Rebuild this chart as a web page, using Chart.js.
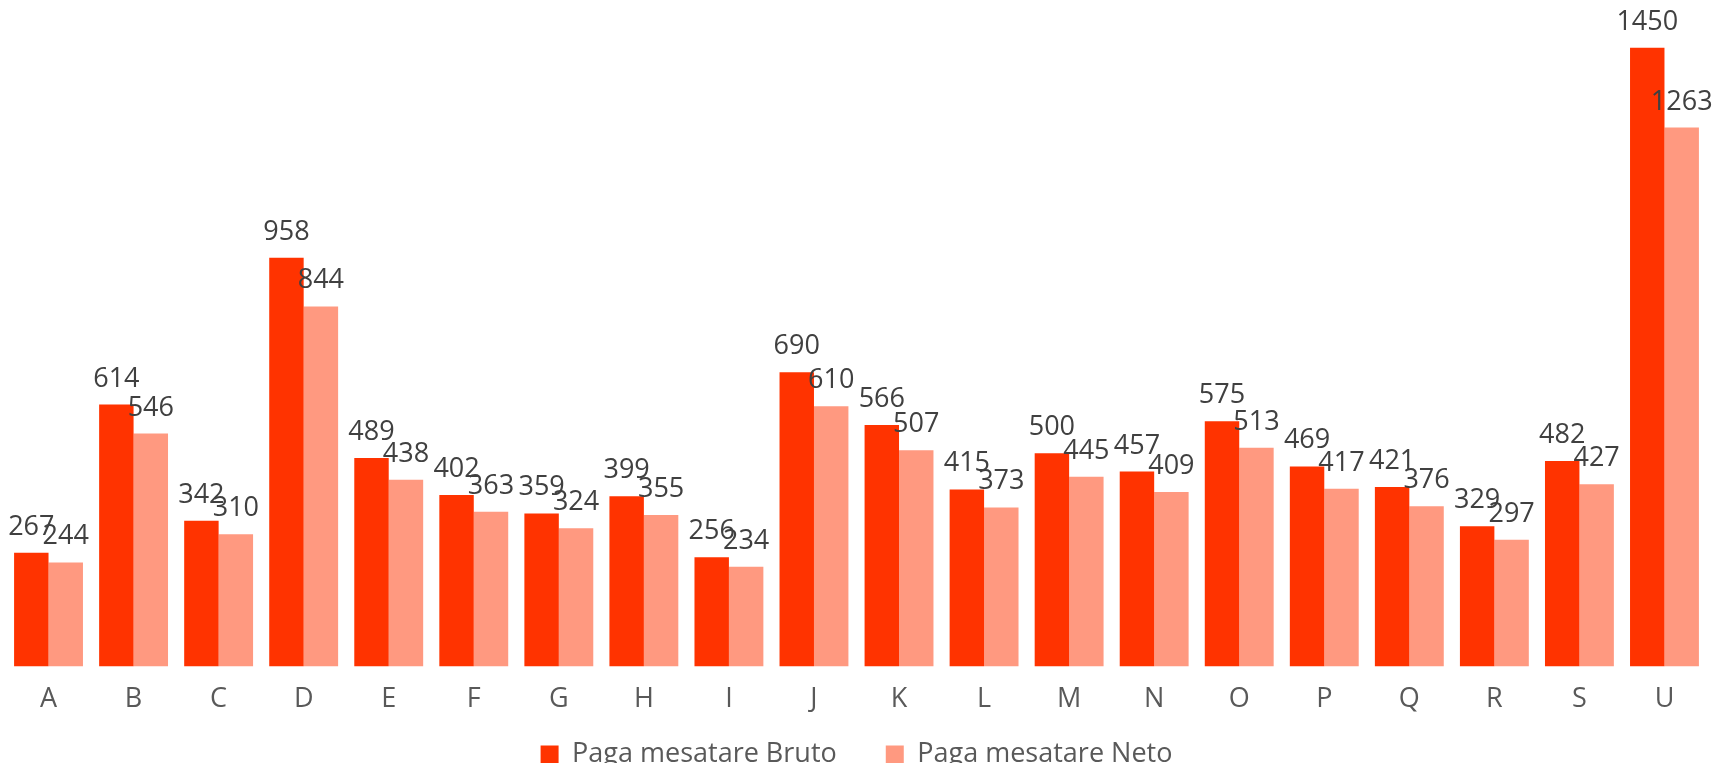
<!DOCTYPE html>
<html>
<head>
<meta charset="utf-8">
<script src="https://cdn.jsdelivr.net/npm/chart.js@4"></script>
<style>
  html, body { margin: 0; padding: 0; background: #fff; overflow: hidden; }
  #wrap { width: 1715px; height: 763px; }
</style>
</head>
<body>
<div id="wrap"><canvas id="myChart"></canvas></div>
<script>
// data
const categories = ['A', 'B', 'C', 'D', 'E', 'F', 'G', 'H', 'I', 'J', 'K', 'L', 'M', 'N', 'O', 'P', 'Q', 'R', 'S', 'U'];
const brutoValues = [267, 614, 342, 958, 489, 402, 359, 399, 256, 690, 566, 415, 500, 457, 575, 469, 421, 329, 482, 1450];
const netoValues = [244, 546, 310, 844, 438, 363, 324, 355, 234, 610, 507, 373, 445, 409, 513, 417, 376, 297, 427, 1263];
const seriesNames = ['Paga mesatare Bruto', 'Paga mesatare Neto'];

const FONT = "'Open Sans', sans-serif";
const FONT_SIZE = 27;

// draws the value above each bar
const valueLabels = {
    id: 'valueLabels',
    afterDatasetsDraw(chart) {
        const ctx = chart.ctx;
        ctx.save();
        ctx.font = FONT_SIZE + 'px ' + FONT;
        ctx.fillStyle = '#404040';
        ctx.textAlign = 'center';
        ctx.textBaseline = 'alphabetic';
        chart.data.datasets.forEach((ds, i) => {
            chart.getDatasetMeta(i).data.forEach((bar, j) => {
                ctx.fillText(ds.data[j], bar.x, bar.y - 18);
            });
        });
        ctx.restore();
    }
};

// legend padding also sets the gap between items, so pull the legend back up
const legendShift = {
    id: 'legendShift',
    afterLayout(chart) {
        chart.legend.top -= 33;
        chart.legend.bottom -= 33;
    }
};

const ctx = document.getElementById('myChart').getContext('2d');
const chart = new Chart(ctx, {
    type: 'bar',
    data: {
        labels: categories,
        datasets: [{
                label: seriesNames[0],
                backgroundColor: '#ff3300',
                data: brutoValues
            },
            {
                label: seriesNames[1],
                backgroundColor: '#ff9980',
                data: netoValues
            }
        ]
    },
    options: {
        responsive: true,
        maintainAspectRatio: false,
        animation: false,
        layout: {
            padding: { left: 6, right: 8, top: 0, bottom: -48 }
        },
        datasets: {
            bar: { categoryPercentage: 0.81, barPercentage: 1.0 }
        },
        scales: {
            x: {
                grid: { display: false },
                border: { display: false },
                ticks: { color: '#595959', font: { family: FONT, size: FONT_SIZE }, padding: 9 }
            },
            y: {
                display: false,
                min: 0,
                max: 1562
            }
        },
        plugins: {
            legend: {
                position: 'bottom',
                labels: {
                    color: '#595959',
                    font: { family: FONT, size: FONT_SIZE },
                    boxWidth: 18,
                    boxHeight: 18,
                    padding: 49
                }
            },
            tooltip: { enabled: false }
        }
    },
    plugins: [valueLabels, legendShift]
});
</script>
</body>
</html>
